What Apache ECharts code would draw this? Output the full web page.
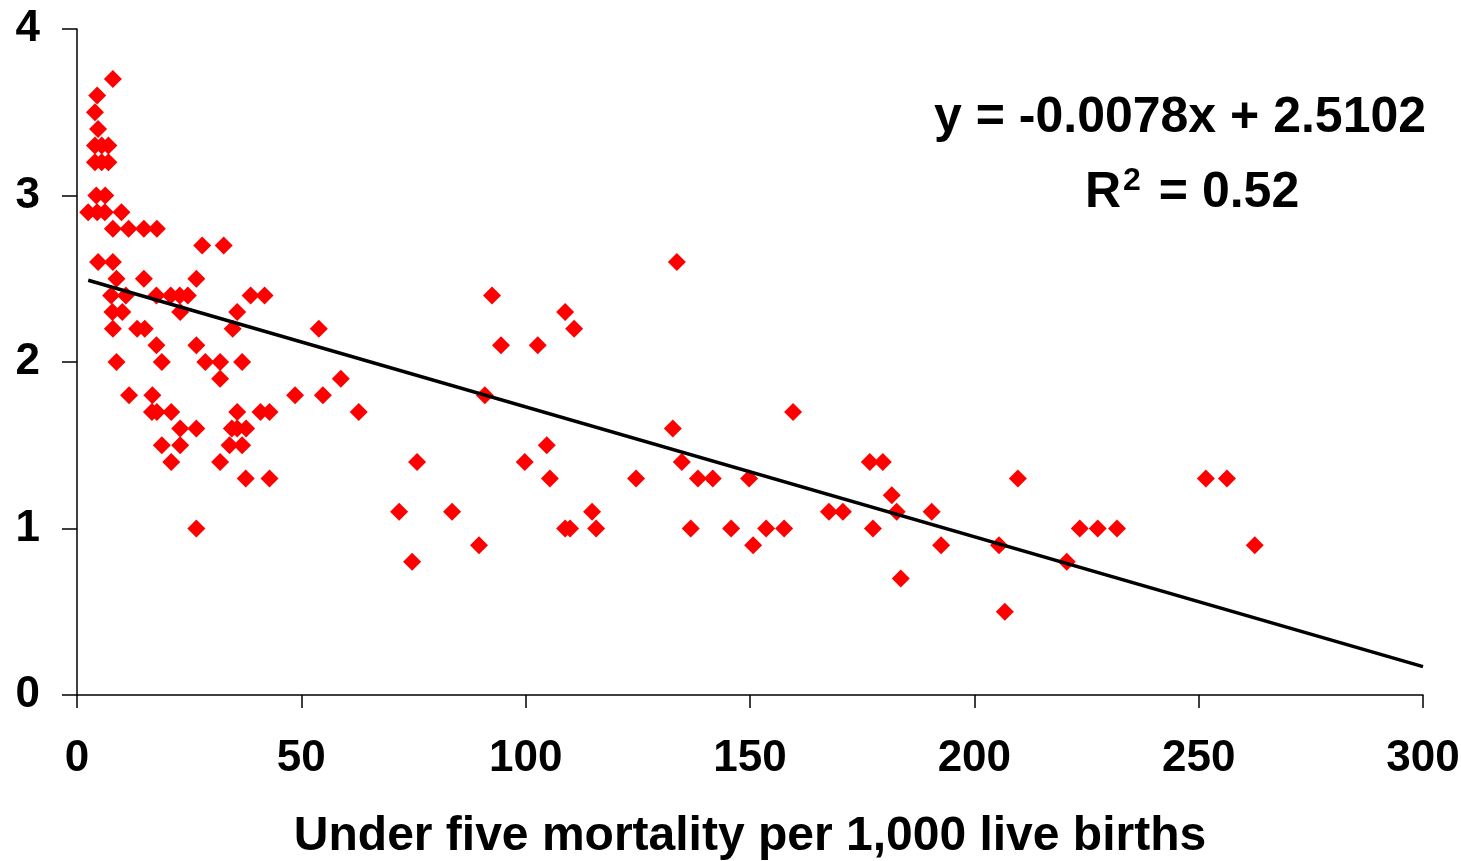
<!DOCTYPE html>
<html>
<head>
<meta charset="utf-8">
<script src="https://cdn.jsdelivr.net/npm/echarts@6/dist/echarts.min.js"></script>
<style>
  html, body { margin: 0; padding: 0; background: #fff; }
  #chart { width: 1461px; height: 861px; }
</style>
</head>
<body>
<div id="chart"></div>
<script>
// under five mortality (x) and matching y values
const mortality = [
  8,
  4.5,
  4,
  4.7,
  4, 5.5, 7,
  4, 5.5, 7,
  4.3, 6.3,
  2.5, 4.5, 6.2, 9.9,
  8, 11.5, 14.9, 17.8,
  27.9, 32.7,
  4.7, 8, 133.7,
  8.8, 14.9, 26.6,
  7.6, 10.9, 17.7, 20.9, 22.9, 24.7, 38.7, 41.8, 92.5,
  7.9, 10.1, 23, 35.7, 108.8,
  8, 13.4, 15.1, 34.7, 53.9, 110.8,
  17.7, 26.6, 94.5, 102.7,
  8.8, 18.9, 28.6, 31.9, 36.8,
  31.9, 58.8,
  11.6, 16.8, 48.6, 54.8, 90.9,
  16.7, 17.8, 21, 35.7, 40.9, 42.9, 62.8, 159.6,
  23, 26.6, 34.5, 35.7, 37.7, 132.8,
  18.9, 23, 34, 36.8, 104.7,
  21, 31.9, 75.8, 99.8, 134.8, 176.7, 179.6,
  37.6, 42.9, 105.4, 124.6, 138.4, 141.7, 149.8, 209.7, 251.6, 256.3,
  181.6,
  71.8, 83.6, 114.8, 167.6, 170.7, 182.7, 190.5,
  26.6, 108.8, 109.9, 115.7, 136.8, 145.8, 153.6, 157.6, 177.4, 223.5, 227.5, 231.8,
  89.6, 150.7, 192.6, 205.5, 262.5,
  74.7, 220.6,
  183.6,
  206.8
];
const yValues = [
  3.7,
  3.6,
  3.5,
  3.4,
  3.3, 3.3, 3.3,
  3.2, 3.2, 3.2,
  3.0, 3.0,
  2.9, 2.9, 2.9, 2.9,
  2.8, 2.8, 2.8, 2.8,
  2.7, 2.7,
  2.6, 2.6, 2.6,
  2.5, 2.5, 2.5,
  2.4, 2.4, 2.4, 2.4, 2.4, 2.4, 2.4, 2.4, 2.4,
  2.3, 2.3, 2.3, 2.3, 2.3,
  2.2, 2.2, 2.2, 2.2, 2.2, 2.2,
  2.1, 2.1, 2.1, 2.1,
  2.0, 2.0, 2.0, 2.0, 2.0,
  1.9, 1.9,
  1.8, 1.8, 1.8, 1.8, 1.8,
  1.7, 1.7, 1.7, 1.7, 1.7, 1.7, 1.7, 1.7,
  1.6, 1.6, 1.6, 1.6, 1.6, 1.6,
  1.5, 1.5, 1.5, 1.5, 1.5,
  1.4, 1.4, 1.4, 1.4, 1.4, 1.4, 1.4,
  1.3, 1.3, 1.3, 1.3, 1.3, 1.3, 1.3, 1.3, 1.3, 1.3,
  1.2,
  1.1, 1.1, 1.1, 1.1, 1.1, 1.1, 1.1,
  1.0, 1.0, 1.0, 1.0, 1.0, 1.0, 1.0, 1.0, 1.0, 1.0, 1.0, 1.0,
  0.9, 0.9, 0.9, 0.9, 0.9,
  0.8, 0.8,
  0.7,
  0.5
];

// trendline as printed on the chart
const slope = -0.0078;
const intercept = 2.5102;
const trendRange = [2.5, 300];
const xTicks = [0, 50, 100, 150, 200, 250, 300];
const yTicks = [0, 1, 2, 3, 4];

const font = 'Liberation Sans, Arial, sans-serif';

const points = mortality.map((x, i) => [x, yValues[i]]);
const trendPoints = trendRange.map(x => [x, slope * x + intercept]);

const myChart = echarts.init(document.getElementById('chart'), null, { renderer: 'canvas' });

const option = {
  backgroundColor: '#ffffff',
  animation: false,
  grid: { left: 77, right: 38, top: 29, bottom: 166, containLabel: false, outerBoundsMode: 'none' },
  xAxis: {
    type: 'value',
    min: xTicks[0],
    max: xTicks[xTicks.length - 1],
    interval: 50,
    name: 'Under five mortality per 1,000 live births',
    nameLocation: 'middle',
    nameGap: 118,
    nameTextStyle: { color: '#000', fontSize: 48, fontWeight: 'bold', fontFamily: font },
    axisLine: { show: true, lineStyle: { color: '#000', width: 1.5 } },
    axisTick: { show: true, inside: false, length: 13, lineStyle: { color: '#000', width: 1.5 } },
    axisLabel: { color: '#000', fontSize: 44, fontWeight: 'bold', fontFamily: font, margin: 42 },
    splitLine: { show: false }
  },
  yAxis: {
    type: 'value',
    min: yTicks[0],
    max: yTicks[yTicks.length - 1],
    interval: 1,
    axisLine: { show: true, lineStyle: { color: '#000', width: 1.5 } },
    axisTick: { show: true, inside: false, length: 15, lineStyle: { color: '#000', width: 1.5 } },
    axisLabel: { color: '#000', fontSize: 44, fontWeight: 'bold', fontFamily: font, margin: 37 },
    splitLine: { show: false }
  },
  graphic: [
    {
      type: 'text',
      left: 934,
      top: 93,
      style: {
        text: 'y = -0.0078x + 2.5102',
        fill: '#000',
        font: 'bold 50px ' + font
      }
    },
    {
      type: 'text',
      left: 1085,
      top: 165,
      style: {
        text: 'R{sup|2} {b|= 0.52}',
        fill: '#000',
        font: 'bold 50px ' + font,
        rich: {
          sup: { fontSize: 32, fontWeight: 'bold', fontFamily: font, verticalAlign: 'top', padding: [0, 4, 24, 2] },
          b: { fontSize: 50, fontWeight: 'bold', fontFamily: font }
        }
      }
    }
  ],
  series: [
    {
      type: 'line',
      data: trendPoints,
      symbol: 'none',
      lineStyle: { color: '#000', width: 3.5 },
      z: 3
    },
    {
      type: 'scatter',
      data: points,
      symbol: 'diamond',
      symbolSize: 18,
      itemStyle: { color: '#ff0000', opacity: 1 },
      z: 2
    }
  ]
};

myChart.setOption(option);
window.addEventListener('resize', () => myChart.resize());
</script>
</body>
</html>
